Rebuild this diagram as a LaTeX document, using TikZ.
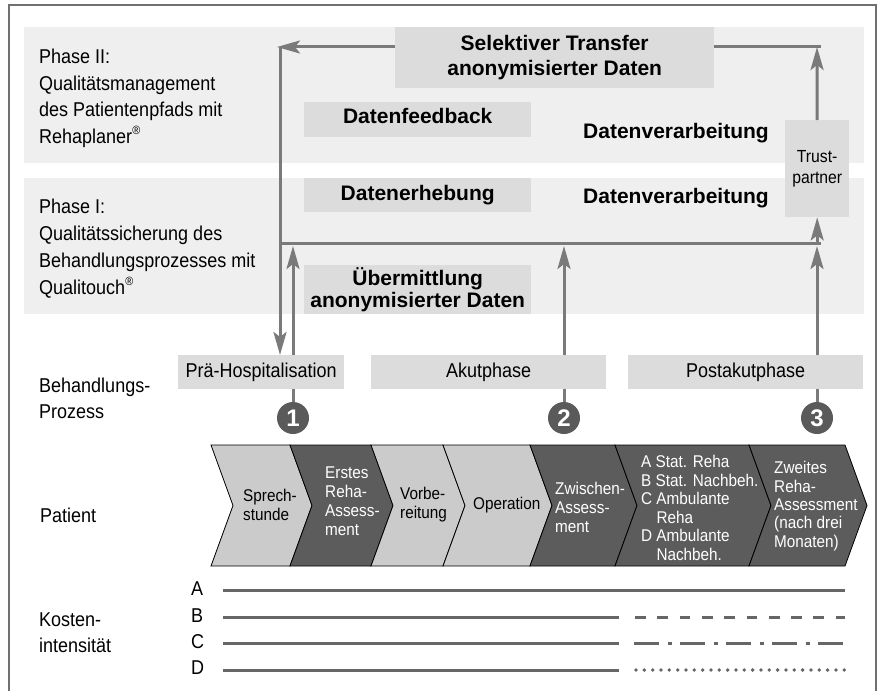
\documentclass[tikz,border=0pt]{standalone}
\usepackage{fontspec}
\setmainfont{Liberation Sans}[FakeStretch=0.9]
\newfontfamily\hfam{Liberation Sans}
\usetikzlibrary{arrows.meta}
\definecolor{band}{HTML}{EFEFEF}
\definecolor{boxg}{HTML}{DCDCDC}
\definecolor{arrg}{HTML}{7A7A7A}
\definecolor{frameg}{HTML}{707070}
\definecolor{chl}{HTML}{CBCBCB}
\definecolor{chd}{HTML}{5C5C5C}
\definecolor{circg}{HTML}{5A5A5A}
\definecolor{costg}{HTML}{666666}
\newcommand{\regmark}{\raisebox{0.45em}{\fontsize{12}{12}\selectfont ®}}
\begin{document}
\begin{tikzpicture}[x=1pt,y=-1pt,
  bandbox/.style={fill=band, draw=none, anchor=north west, inner sep=0},
  greybox/.style={fill=boxg, draw=none, anchor=north west, inner sep=0, align=center},
  boldtxt/.style={font=\hfam\bfseries\fontsize{21}{25}\selectfont},
  regtxt/.style={font=\fontsize{20}{26.7}\selectfont},
  lbl/.style={regtxt, anchor=base west, inner sep=0, align=left},
  chtxt/.style={font=\fontsize{17}{19}\selectfont, anchor=west, inner sep=0, align=left},
  conn/.style={draw=arrg, line width=3pt},
  arr/.style={conn, -{Stealth[length=23pt,width=13pt,inset=5pt]}},
  numc/.style={circle, fill=circg, minimum size=32pt, inner sep=0, text=white, font=\hfam\bfseries\fontsize{24}{24}\selectfont},
  chev/.style={draw=black, line width=0.8pt},
  cost/.style={draw=costg, line width=3pt},
]
\useasboundingbox (0,0) rectangle (877,690);
% frame
\draw[frameg, line width=2pt] (9,692) -- (9,5) -- (876,5) -- (876,692);

% bands
\node[bandbox, minimum width=840pt, minimum height=136pt] (band2) at (24,27) {};
\node[bandbox, minimum width=840pt, minimum height=136pt] (band1) at (24,178) {};

% left labels (base = baseline of the last line)
\node[lbl] (ph2) at (39,143.5) {Phase II:\\Qualitätsmanagement\\des Patientenpfads mit\\Rehaplaner\regmark};
\node[lbl] (ph1) at (39,294) {Phase I:\\Qualitätssicherung des\\Behandlungsprozesses mit\\Qualitouch\regmark};
\node[lbl, font=\fontsize{20}{25.5}\selectfont] (bp) at (39,418) {Behandlungs-\\Prozess};
\node[lbl] (pat) at (40,522) {Patient};
\node[lbl, font=\fontsize{20}{25.7}\selectfont] (kost) at (39,652) {Kosten-\\intensität};

% grey boxes
\node[greybox, boldtxt, minimum width=319pt, minimum height=61pt] (sel) at (395,27) {Selektiver Transfer\\anonymisierter Daten};
\node[greybox, boldtxt, text depth=8pt, minimum width=227pt, minimum height=35pt] (feed) at (304,102) {Datenfeedback};
\node[greybox, boldtxt, minimum width=227pt, minimum height=34pt] (erh) at (304,178) {Datenerhebung};
\node[greybox, font=\hfam\bfseries\fontsize{21}{22}\selectfont, minimum width=227pt, minimum height=49pt] (ueb) at (304,265) {Übermittlung\\anonymisierter Daten};
\node[boldtxt, anchor=base, inner sep=0] (dv2) at (676,139) {Datenverarbeitung};
\node[boldtxt, anchor=base, inner sep=0] (dv1) at (676,203) {Datenverarbeitung};
\node[greybox, font=\fontsize{17.5}{21}\selectfont, minimum width=64pt, minimum height=97pt] (trust) at (785,120) {Trust-\\partner};

\node[greybox, regtxt, minimum width=166pt, minimum height=34pt] (pre) at (178,355) {Prä-Hospitalisation};
\node[greybox, regtxt, minimum width=235pt, minimum height=34pt] (akut) at (371,355) {Akutphase};
\node[greybox, regtxt, minimum width=235pt, minimum height=34pt] (post) at (628,355) {Postakutphase};

% connectors
\coordinate (tl) at (280,47);
\coordinate (tr) at (817,47);
\coordinate (hl) at (280,243);
\coordinate (hr) at (821,243);
\coordinate (a1) at (293,0);
\coordinate (a2) at (564,0);
\coordinate (a3) at (817,0);

\draw[arr] (sel.west |- tl) -- ([xshift=-3pt]tl);
\draw[arr] (tl) -- (tl |- pre.north);
\draw[conn] (sel.east |- tr) -- ([xshift=4pt]tr);
\draw[arr] (trust.north) -- (tr);
\draw[conn] (hl) -- (hr);
\draw[arr] (trust.south |- hl) -- (trust.south);
\draw[arr] (a1 |- pre.north) -- ([yshift=-3pt]a1 |- hl);
\draw[arr] (a2 |- akut.north) -- ([yshift=-3pt]a2 |- hl);
\draw[arr] (a3 |- post.north) -- ([yshift=-3pt]a3 |- hl);

% numbered circles
\node[numc] (c1) at (293,418) {1};
\node[numc] (c2) at (564,418) {2};
\node[numc] (c3) at (817,418) {3};
\draw[conn] (c1 |- pre.south) -- (c1.north);
\draw[conn] (c2 |- akut.south) -- (c2.north);
\draw[conn] (c3 |- post.south) -- (c3.north);

% chevrons
\path[chev, fill=chl] (211,445) -- (290,445) -- (312,505.5) -- (290,566) -- (211,566) -- (233,505.5) -- cycle;
\path[chev, fill=chd] (290,445) -- (371,445) -- (393,505.5) -- (371,566) -- (290,566) -- (312,505.5) -- cycle;
\path[chev, fill=chl] (371,445) -- (443,445) -- (465,505.5) -- (443,566) -- (371,566) -- (393,505.5) -- cycle;
\path[chev, fill=chl] (443,445) -- (530,445) -- (552,505.5) -- (530,566) -- (443,566) -- (465,505.5) -- cycle;
\path[chev, fill=chd] (530,445) -- (615,445) -- (637,505.5) -- (615,566) -- (530,566) -- (552,505.5) -- cycle;
\path[chev, fill=chd] (615,445) -- (749,445) -- (771,505.5) -- (749,566) -- (615,566) -- (637,505.5) -- cycle;
\path[chev, fill=chd] (749,445) -- (845,445) -- (867,505.5) -- (845,566) -- (749,566) -- (771,505.5) -- cycle;

\node[chtxt] (t1) at (243,505) {Sprech-\\stunde};
\node[chtxt, text=white] (t2) at (325,501) {Erstes\\Reha-\\Assess-\\ment};
\node[chtxt] (t3) at (400,505) {Vorbe-\\reitung};
\node[chtxt] (t4) at (473,505) {Operation};
\node[chtxt, text=white] (t5) at (555,507) {Zwischen-\\Assess-\\ment};
\node[chtxt, text=white, font=\fontsize{17}{18.6}\selectfont] (t6) at (641,508) {A Stat. Reha\\B Stat. Nachbeh.\\C Ambulante\\\phantom{C }Reha\\D Ambulante\\\phantom{D }Nachbeh.};
\node[chtxt, text=white, font=\fontsize{17}{18.3}\selectfont] (t7) at (774,506) {Zweites\\Reha-\\Assessment\\(nach drei\\Monaten)};

% cost lines
\node[lbl] (ka) at (191,595) {A};
\node[lbl] (kb) at (191,622) {B};
\node[lbl] (kc) at (191,648) {C};
\node[lbl] (kd) at (191,674) {D};
\draw[cost] (223,590) -- (845,590);
\draw[cost] (223,617) -- (619,617);
\draw[cost, dash pattern=on 10.7pt off 11.6pt] (635,617) -- (845,617);
\draw[cost] (223,643) -- (619,643);
\draw[cost, dash pattern=on 24.5pt off 9pt on 4pt off 8.5pt] (634,643) -- (845,643);
\draw[cost] (223,670) -- (619,670);
\draw[costg, line width=3.8pt, line cap=round, dash pattern=on 0pt off 8.33pt] (636,670) -- (845,670);
\end{tikzpicture}
\end{document}
